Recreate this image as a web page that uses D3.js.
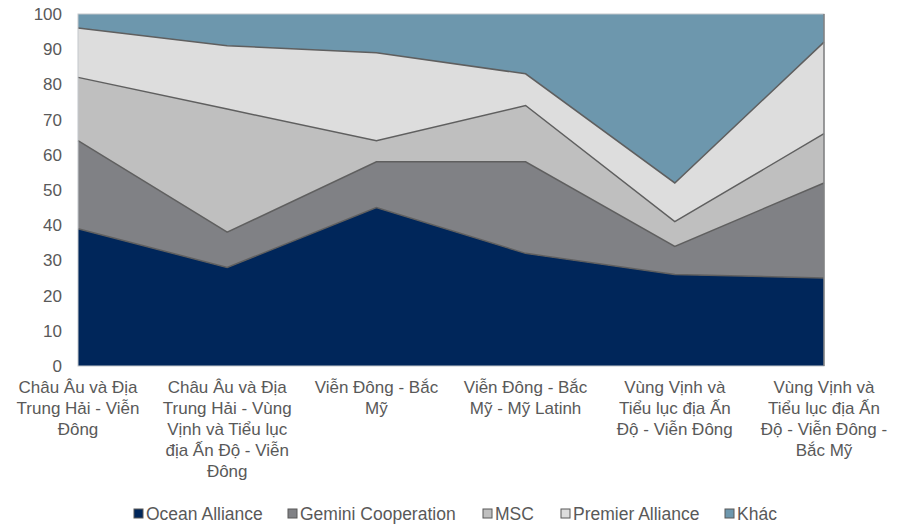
<!DOCTYPE html>
<html>
<head>
<meta charset="utf-8">
<script src="https://cdn.jsdelivr.net/npm/d3@7"></script>
<style>
  body { margin: 0; background: #fff; }
  text { font-family: "Liberation Sans", Arial, sans-serif; fill: #595959; }
</style>
</head>
<body>
<div id="chart"></div>
<script>
// categories (wrapped as in the picture)
const categories = [
    ["Châu Âu và Địa", "Trung Hải - Viễn", "Đông"],
    ["Châu Âu và Địa", "Trung Hải - Vùng", "Vịnh và Tiểu lục", "địa Ấn Độ - Viễn", "Đông"],
    ["Viễn Đông - Bắc", "Mỹ"],
    ["Viễn Đông - Bắc", "Mỹ - Mỹ Latinh"],
    ["Vùng Vịnh và", "Tiểu lục địa Ấn", "Độ - Viễn Đông"],
    ["Vùng Vịnh và", "Tiểu lục địa Ấn", "Độ - Viễn Đông -", "Bắc Mỹ"]
];
const seriesNames = ["Ocean Alliance", "Gemini Cooperation", "MSC", "Premier Alliance", "Khác"];
const oceanAlliance = [39, 28, 45, 32, 26, 25];
const geminiCooperation = [25, 10, 13, 26, 8, 27];
const msc = [18, 35, 6, 16, 7, 14];
const premierAlliance = [14, 18, 25, 9, 11, 26];
const khac = [4, 9, 11, 17, 48, 8];
const yTicks = [0, 10, 20, 30, 40, 50, 60, 70, 80, 90, 100];

const colors = ["#00265a", "#808185", "#bfbfbf", "#dddddd", "#6d97ad"];

const width = 904;
const height = 526;
const marginLeft = 78;
const marginRight = 80;
const marginTop = 14;
const plotBottom = 366;

// build rows for d3.stack
const seriesValues = [oceanAlliance, geminiCooperation, msc, premierAlliance, khac];
const rows = categories.map((c, i) => {
    const r = {key: i};
    seriesNames.forEach((s, j) => r[s] = seriesValues[j][i]);
    return r;
});
const stacked = d3.stack().keys(seriesNames)(rows);

const x = d3.scalePoint()
    .domain(d3.range(categories.length))
    .range([marginLeft, width - marginRight]);

const y = d3.scaleLinear()
    .domain([0, 100])
    .range([plotBottom, marginTop]);

const svg = d3.select("#chart").append("svg")
    .attr("width", width)
    .attr("height", height);

// areas
const area = d3.area()
    .x(d => x(d.data.key))
    .y0(d => y(d[0]))
    .y1(d => y(Math.min(100, d[1])));

svg.append("g")
    .selectAll("path")
    .data(stacked)
    .join("path")
        .attr("fill", (d, i) => colors[i])
        .attr("d", area);

// boundary lines between the layers
const line = d3.line()
    .x(d => x(d.data.key))
    .y(d => y(d[1]));

svg.append("g")
    .selectAll("path")
    .data(stacked.slice(0, 4))
    .join("path")
        .attr("fill", "none")
        .attr("stroke", "#5f5f5f")
        .attr("stroke-width", 1.5)
        .attr("d", line);

// plot frame
svg.append("rect")
    .attr("x", marginLeft)
    .attr("y", marginTop)
    .attr("width", width - marginLeft - marginRight)
    .attr("height", plotBottom - marginTop)
    .attr("fill", "none")
    .attr("stroke", "#c4c8cc")
    .attr("stroke-width", 1);

svg.append("line")
    .attr("x1", width - marginRight).attr("x2", width - marginRight)
    .attr("y1", marginTop).attr("y2", plotBottom)
    .attr("stroke", "#6b6b6b")
    .attr("stroke-width", 1.2);

// y axis labels
svg.append("g")
    .attr("transform", `translate(${marginLeft - 16},0)`)
    .call(d3.axisLeft(y).tickValues(yTicks).tickSize(0).tickPadding(0))
    .call(g => g.select(".domain").remove())
    .call(g => g.selectAll("text")
        .attr("fill", "#595959")
        .style("font-size", "17px")
        .style("font-family", "'Liberation Sans', Arial, sans-serif"));

// x axis labels, one tspan per line
const xl = svg.append("g")
    .selectAll("text")
    .data(categories)
    .join("text")
        .attr("text-anchor", "middle")
        .attr("font-size", "17px")
        .attr("x", (d, i) => x(i))
        .attr("y", 393);

xl.selectAll("tspan")
    .data(d => d)
    .join("tspan")
        .attr("x", function() { return this.parentNode.getAttribute("x"); })
        .attr("dy", (d, i) => i === 0 ? 0 : 21)
        .text(d => d);

// legend
const legendX = [134, 288, 483, 561, 725];
const legend = svg.append("g")
    .selectAll("g")
    .data(seriesNames)
    .join("g")
        .attr("transform", (d, i) => `translate(${legendX[i]},509)`);

legend.append("rect")
    .attr("width", 9)
    .attr("height", 9)
    .attr("fill", (d, i) => colors[i])
    .attr("stroke", "#595959")
    .attr("stroke-width", 1);

legend.append("text")
    .attr("x", 12)
    .attr("y", 11)
    .attr("font-size", "17.5px")
    .text(d => d);
</script>
</body>
</html>
